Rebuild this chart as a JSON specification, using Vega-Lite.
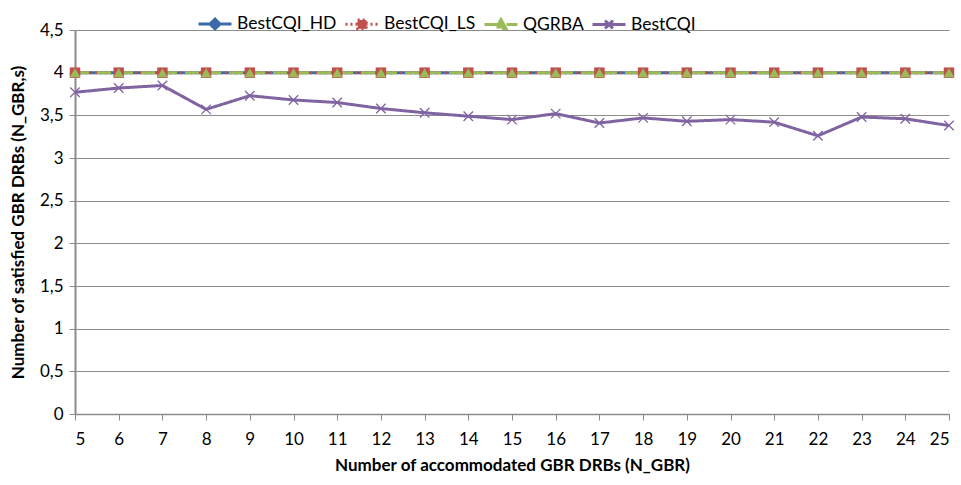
{
  "$schema": "https://vega.github.io/schema/vega-lite/v6.json",
  "autosize": {"type": "none"},
  "width": 874,
  "height": 384,
  "padding": {"left": 75, "top": 30, "right": 12, "bottom": 71},
  "background": "white",
  "config": {
    "font": "Lato",
    "view": {"stroke": null},
    "axis": {"labelFont": "Lato", "titleFont": "Lato", "labelColor": "#000", "titleColor": "#000"}
  },
  "data": {
    "values": [
      {"n": 5, "series": "BestCQI_HD", "value": 4}, {"n": 6, "series": "BestCQI_HD", "value": 4}, {"n": 7, "series": "BestCQI_HD", "value": 4},
      {"n": 8, "series": "BestCQI_HD", "value": 4}, {"n": 9, "series": "BestCQI_HD", "value": 4}, {"n": 10, "series": "BestCQI_HD", "value": 4},
      {"n": 11, "series": "BestCQI_HD", "value": 4}, {"n": 12, "series": "BestCQI_HD", "value": 4}, {"n": 13, "series": "BestCQI_HD", "value": 4},
      {"n": 14, "series": "BestCQI_HD", "value": 4}, {"n": 15, "series": "BestCQI_HD", "value": 4}, {"n": 16, "series": "BestCQI_HD", "value": 4},
      {"n": 17, "series": "BestCQI_HD", "value": 4}, {"n": 18, "series": "BestCQI_HD", "value": 4}, {"n": 19, "series": "BestCQI_HD", "value": 4},
      {"n": 20, "series": "BestCQI_HD", "value": 4}, {"n": 21, "series": "BestCQI_HD", "value": 4}, {"n": 22, "series": "BestCQI_HD", "value": 4},
      {"n": 23, "series": "BestCQI_HD", "value": 4}, {"n": 24, "series": "BestCQI_HD", "value": 4}, {"n": 25, "series": "BestCQI_HD", "value": 4},
      {"n": 5, "series": "BestCQI_LS", "value": 4}, {"n": 6, "series": "BestCQI_LS", "value": 4}, {"n": 7, "series": "BestCQI_LS", "value": 4},
      {"n": 8, "series": "BestCQI_LS", "value": 4}, {"n": 9, "series": "BestCQI_LS", "value": 4}, {"n": 10, "series": "BestCQI_LS", "value": 4},
      {"n": 11, "series": "BestCQI_LS", "value": 4}, {"n": 12, "series": "BestCQI_LS", "value": 4}, {"n": 13, "series": "BestCQI_LS", "value": 4},
      {"n": 14, "series": "BestCQI_LS", "value": 4}, {"n": 15, "series": "BestCQI_LS", "value": 4}, {"n": 16, "series": "BestCQI_LS", "value": 4},
      {"n": 17, "series": "BestCQI_LS", "value": 4}, {"n": 18, "series": "BestCQI_LS", "value": 4}, {"n": 19, "series": "BestCQI_LS", "value": 4},
      {"n": 20, "series": "BestCQI_LS", "value": 4}, {"n": 21, "series": "BestCQI_LS", "value": 4}, {"n": 22, "series": "BestCQI_LS", "value": 4},
      {"n": 23, "series": "BestCQI_LS", "value": 4}, {"n": 24, "series": "BestCQI_LS", "value": 4}, {"n": 25, "series": "BestCQI_LS", "value": 4},
      {"n": 5, "series": "QGRBA", "value": 4}, {"n": 6, "series": "QGRBA", "value": 4}, {"n": 7, "series": "QGRBA", "value": 4},
      {"n": 8, "series": "QGRBA", "value": 4}, {"n": 9, "series": "QGRBA", "value": 4}, {"n": 10, "series": "QGRBA", "value": 4},
      {"n": 11, "series": "QGRBA", "value": 4}, {"n": 12, "series": "QGRBA", "value": 4}, {"n": 13, "series": "QGRBA", "value": 4},
      {"n": 14, "series": "QGRBA", "value": 4}, {"n": 15, "series": "QGRBA", "value": 4}, {"n": 16, "series": "QGRBA", "value": 4},
      {"n": 17, "series": "QGRBA", "value": 4}, {"n": 18, "series": "QGRBA", "value": 4}, {"n": 19, "series": "QGRBA", "value": 4},
      {"n": 20, "series": "QGRBA", "value": 4}, {"n": 21, "series": "QGRBA", "value": 4}, {"n": 22, "series": "QGRBA", "value": 4},
      {"n": 23, "series": "QGRBA", "value": 4}, {"n": 24, "series": "QGRBA", "value": 4}, {"n": 25, "series": "QGRBA", "value": 4},
      {"n": 5, "series": "BestCQI", "value": 3.77}, {"n": 6, "series": "BestCQI", "value": 3.82}, {"n": 7, "series": "BestCQI", "value": 3.85},
      {"n": 8, "series": "BestCQI", "value": 3.57}, {"n": 9, "series": "BestCQI", "value": 3.73}, {"n": 10, "series": "BestCQI", "value": 3.68},
      {"n": 11, "series": "BestCQI", "value": 3.65}, {"n": 12, "series": "BestCQI", "value": 3.58}, {"n": 13, "series": "BestCQI", "value": 3.53},
      {"n": 14, "series": "BestCQI", "value": 3.49}, {"n": 15, "series": "BestCQI", "value": 3.45}, {"n": 16, "series": "BestCQI", "value": 3.52},
      {"n": 17, "series": "BestCQI", "value": 3.41}, {"n": 18, "series": "BestCQI", "value": 3.47}, {"n": 19, "series": "BestCQI", "value": 3.43},
      {"n": 20, "series": "BestCQI", "value": 3.45}, {"n": 21, "series": "BestCQI", "value": 3.42}, {"n": 22, "series": "BestCQI", "value": 3.26},
      {"n": 23, "series": "BestCQI", "value": 3.48}, {"n": 24, "series": "BestCQI", "value": 3.46}, {"n": 25, "series": "BestCQI", "value": 3.38}
    ]
  },
  "encoding": {
    "x": {
      "field": "n", "type": "quantitative",
      "scale": {"domain": [5, 25], "nice": false, "zero": false},
      "axis": {
        "title": "Number of accommodated GBR DRBs (N_GBR)",
        "values": [5, 6, 7, 8, 9, 10, 11, 12, 13, 14, 15, 16, 17, 18, 19, 20, 21, 22, 23, 24, 25],
        "grid": false,
        "domainColor": "#8c8c8c", "domainWidth": 1.5,
        "tickColor": "#8c8c8c", "tickSize": 6,
        "labelFontSize": 17, "labelPadding": 11,
        "titleFontSize": 17, "titleFontWeight": "bold", "titlePadding": 10
      }
    },
    "y": {
      "field": "value", "type": "quantitative",
      "scale": {"domain": [0, 4.5], "nice": false},
      "axis": {
        "title": "Number of satisfied GBR DRBs (N_GBR,s)",
        "values": [0, 0.5, 1, 1.5, 2, 2.5, 3, 3.5, 4, 4.5],
        "format": ".1~f",
        "labelExpr": "replace(datum.label, '.', ',')",
        "grid": true, "gridColor": "#8c8c8c", "gridWidth": 1,
        "domainColor": "#8c8c8c", "domainWidth": 2,
        "tickColor": "#8c8c8c", "tickSize": 6,
        "labelFontSize": 17, "labelPadding": 6,
        "titleFontSize": 17, "titleFontWeight": "bold", "titlePadding": 12
      }
    }
  },
  "layer": [
    {
      "mark": {"type": "line", "strokeWidth": 3},
      "encoding": {
        "color": {
          "field": "series", "type": "nominal",
          "scale": {
            "domain": ["BestCQI_HD", "BestCQI_LS", "QGRBA", "BestCQI"],
            "range": ["#3C69AA", "#C0504D", "#9BBB59", "#8064A2"]
          },
          "legend": {
            "orient": "none", "direction": "horizontal",
            "legendX": 122, "legendY": -24,
            "title": null,
            "labelFontSize": 17.5, "labelFont": "Lato", "labelColor": "#000",
            "labelOffset": 4, "columnPadding": 2,
            "symbolSize": 1089, "symbolStrokeWidth": 3,
            "encode": {
              "symbols": {
                "update": {
                  "shape": {"signal": "datum.value === 'BestCQI_HD' ? 'M-1,0H1M0,-0.3L0.3,0L0,0.3L-0.3,0Z' : datum.value === 'BestCQI_LS' ? 'M-1,0H1M-0.26,-0.26H0.26V0.26H-0.26Z' : datum.value === 'QGRBA' ? 'M-1,0H1M0,-0.3L0.3,0.24H-0.3Z' : 'M-1,0H1M-0.24,-0.24L0.24,0.24M-0.24,0.24L0.24,-0.24'"},
                  "fill": {"signal": "scale('color', datum.value)"},
                  "stroke": {"signal": "scale('color', datum.value)"},
                  "strokeDash": {"signal": "datum.value === 'BestCQI_LS' ? [2, 3] : datum.value === 'QGRBA' ? [9, 4] : [1, 0]"},
                  "opacity": {"value": 1}
                }
              }
            }
          }
        },
        "strokeDash": {
          "field": "series", "type": "nominal",
          "scale": {
            "domain": ["BestCQI_HD", "BestCQI_LS", "QGRBA", "BestCQI"],
            "range": [[1, 0], [2, 3], [14, 8], [1, 0]]
          },
          "legend": null
        }
      }
    },
    {
      "transform": [{"filter": "datum.series === 'BestCQI_HD'"}],
      "mark": {"type": "point", "shape": "diamond", "filled": true, "size": 100, "opacity": 1, "color": "#3C69AA"}
    },
    {
      "transform": [{"filter": "datum.series === 'BestCQI_LS'"}],
      "mark": {"type": "point", "shape": "square", "filled": true, "size": 110, "opacity": 1, "color": "#C0504D"}
    },
    {
      "transform": [{"filter": "datum.series === 'QGRBA'"}],
      "mark": {"type": "point", "shape": "triangle-up", "filled": true, "size": 110, "opacity": 1, "color": "#9BBB59"}
    },
    {
      "transform": [{"filter": "datum.series === 'BestCQI'"}],
      "mark": {"type": "point", "shape": "M-1,-1L1,1M-1,1L1,-1", "filled": false, "size": 90, "opacity": 1, "color": "#8064A2", "strokeWidth": 1.3}
    }
  ]
}
